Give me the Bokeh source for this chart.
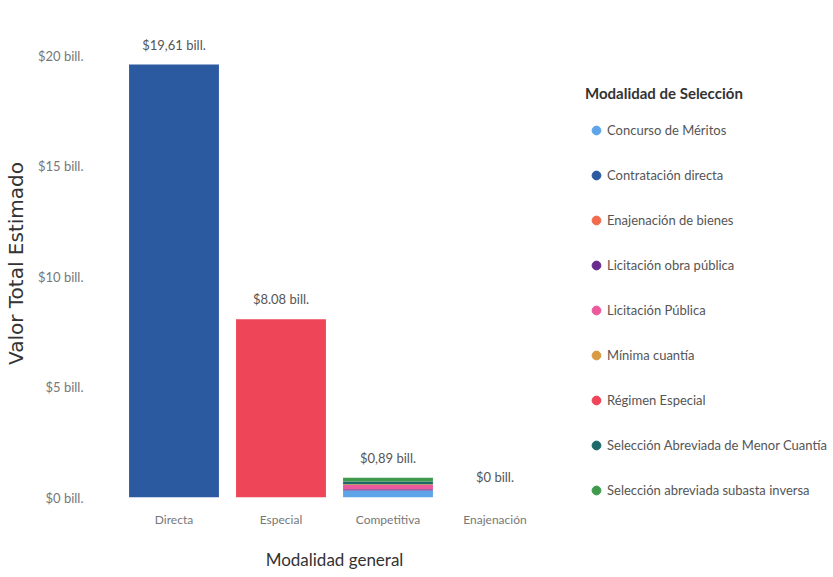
import numpy as np
from bokeh.plotting import figure
from bokeh.models import (ColumnDataSource, FactorRange, Range1d, FixedTicker,
                          Legend, LegendItem)
from bokeh.core.properties import value
from bokeh.embed import file_html
from bokeh.resources import INLINE

# ---- data ----
categories = ["Directa", "Especial", "Competitiva", "Enajenación"]
series_names = ["Concurso de Méritos", "Contratación directa", "Enajenación de bienes",
                "Licitación obra pública", "Licitación Pública", "Mínima cuantía",
                "Régimen Especial", "Selección Abreviada de Menor Cuantía",
                "Selección abreviada subasta inversa"]
concurso = [0.0, 0.0, 0.32, 0.0]
contratacion_directa = [19.61, 0.0, 0.0, 0.0]
enajenacion_bienes = [0.0, 0.0, 0.0, 0.003]
licitacion_obra = [0.0, 0.0, 0.05, 0.0]
licitacion_publica = [0.0, 0.0, 0.20, 0.0]
minima_cuantia = [0.0, 0.0, 0.03, 0.0]
regimen_especial = [0.0, 8.08, 0.0, 0.0]
sel_menor_cuantia = [0.0, 0.0, 0.13, 0.0]
subasta_inversa = [0.0, 0.0, 0.16, 0.0]
totals = [19.61, 8.08, 0.89, 0.003]
total_labels = ["$19,61 bill.", "$8.08 bill.", "$0,89 bill.", "$0 bill."]
y_ticks = [0, 5, 10, 15, 20]
y_tick_labels = ["$0 bill.", "$5 bill.", "$10 bill.", "$15 bill.", "$20 bill."]
colors = ["#5DA5E8", "#2C5AA0", "#F26B4F", "#6A2C8C", "#EC5A9E",
          "#D99A45", "#EE4558", "#1E6A6A", "#3F9A4B"]

keys = ["s0", "s1", "s2", "s3", "s4", "s5", "s6", "s7", "s8"]
series_values = [concurso, contratacion_directa, enajenacion_bienes, licitacion_obra,
                 licitacion_publica, minima_cuantia, regimen_especial,
                 sel_menor_cuantia, subasta_inversa]
data = {"cat": categories}
for k, v in zip(keys, series_values):
    data[k] = v
source = ColumnDataSource(data)
label_src = ColumnDataSource(dict(cat=categories, total=totals, label=total_labels))

COND = "Lato"

p = figure(x_range=FactorRange(*categories, range_padding=0),
           y_range=Range1d(0, 21.2),
           frame_width=428, frame_height=468, output_backend="svg",
           toolbar_location=None,
           min_border_left=116, min_border_right=0, min_border_top=29,
           min_border_bottom=0)
p.outline_line_color = None
p.background_fill_color = "white"
p.border_fill_color = "white"

p.vbar_stack(keys, x="cat", width=0.84, color=colors, source=source, line_color=None)

p.text(x="cat", y="total", text="label", source=label_src, text_align="center",
       text_baseline="bottom", y_offset=-12, text_font=value(COND),
       text_font_size="13px", text_color="#555555")

# axes
p.xgrid.visible = False
p.ygrid.visible = False
for ax in (p.xaxis[0], p.yaxis[0]):
    ax.axis_line_color = None
    ax.major_tick_line_color = None
    ax.minor_tick_line_color = None
    ax.major_label_text_font = COND
    ax.major_label_text_color = "#777777"

p.yaxis.ticker = FixedTicker(ticks=y_ticks)
p.yaxis.major_label_overrides = {t: l for t, l in zip(y_ticks, y_tick_labels)}
p.yaxis.major_label_text_font_size = "13px"
p.yaxis.major_label_standoff = 31
p.yaxis.axis_label = "Valor Total Estimado"
p.yaxis.axis_label_text_font = "DejaVu Sans"
p.yaxis.axis_label_text_font_style = "normal"
p.yaxis.axis_label_text_font_size = "20px"
p.yaxis.axis_label_text_color = "#333333"
p.yaxis.axis_label_standoff = 7

p.xaxis.major_label_text_font_size = "12px"
p.xaxis.major_label_standoff = 8
p.xaxis.axis_label = "Modalidad general"
p.xaxis.axis_label_text_font = COND
p.xaxis.axis_label_text_font_style = "normal"
p.xaxis.axis_label_text_font_size = "17px"
p.xaxis.axis_label_text_color = "#333333"
p.xaxis.axis_label_standoff = 19

# legend with circle markers (invisible placeholder points, NaN y)
items = []
for name, c in zip(series_names, colors):
    r = p.scatter(x=[categories[0]], y=np.array([np.nan]), marker="circle",
                  size=10, color=c)
    items.append(LegendItem(label=name, renderers=[r]))
legend = Legend(items=items, location=(37, -4), title="Modalidad de Selección",
                title_text_font=COND, title_text_font_style="bold",
                title_text_font_size="15px", title_text_color="#333333",
                title_standoff=17, label_text_font=COND, label_text_font_size="13px",
                label_text_color="#555555", label_height=22, glyph_height=22,
                glyph_width=22, label_standoff=0, spacing=23, padding=5, margin=0,
                border_line_color=None, background_fill_alpha=0)
p.add_layout(legend, "right")

open("out.html", "w").write(file_html(p, INLINE))
